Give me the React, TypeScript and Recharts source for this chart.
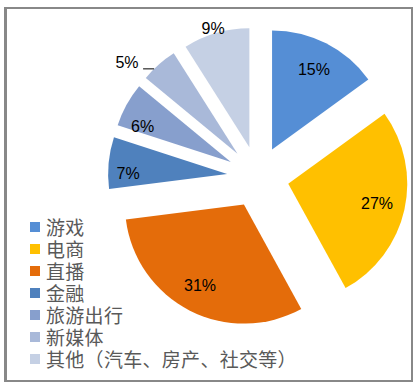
import React from "react";
import { PieChart, Pie, Cell, Legend } from "recharts";

// share of each category (%), clockwise from 12 o'clock
const categories = ["游戏", "电商", "直播", "金融", "旅游出行", "新媒体", "其他（汽车、房产、社交等）"];
const shares = [15, 27, 31, 7, 6, 5, 9];
const colors = ["#558ED5", "#FFC000", "#E46C0A", "#4F81BD", "#879FCD", "#A9B9D9", "#C5D0E4"];

// exploded pie layout
const CENTER_X = 258;
const CENTER_Y = 177;
const RADIUS = 119;
const EXPLODE = 31;

// where each percent label sits, measured from its own slice tip
const labelAngle = [27.7, 102.7, 208.5, 270.6, 291.7, 309.4, 343];
const labelRadius = [90, 91, 92, 99, 95, 143, 124];

const rows = categories.map((name, i) => ({ name, value: shares[i] }));
const total = shares.reduce((a, b) => a + b, 0);

const rad = (deg: number) => (deg * Math.PI) / 180;

// compass angle (clockwise from top) of each slice middle
const midAngles = shares.map((v, i) => {
  const before = shares.slice(0, i).reduce((a, b) => a + b, 0);
  return ((before + v / 2) / total) * 360;
});

const centers = midAngles.map((a) => ({
  x: CENTER_X + EXPLODE * Math.sin(rad(a)),
  y: CENTER_Y - EXPLODE * Math.cos(rad(a)),
}));

function makeLabel(slice: number) {
  return (props: any) => {
    if (props.index !== slice) return null;
    const a = rad(labelAngle[slice]);
    const x = props.cx + labelRadius[slice] * Math.sin(a);
    const y = props.cy - labelRadius[slice] * Math.cos(a);
    const text = (
      <text
        x={x}
        y={y}
        textAnchor="middle"
        dominantBaseline="central"
        fill="#000"
        fontSize={16}
        fontFamily="'Liberation Sans', Arial, sans-serif"
      >
        {`${shares[slice]}%`}
      </text>
    );
    if (slice !== 5) return text;
    // small leader line for the 5% slice
    const ea = rad(315.5);
    const ex = props.cx + props.outerRadius * Math.sin(ea);
    const ey = props.cy - props.outerRadius * Math.cos(ea);
    return (
      <g>
        {text}
        <line x1={ex - 11} y1={ey} x2={ex} y2={ey} stroke="#000" strokeWidth={1} />
      </g>
    );
  };
}

function LegendBox() {
  return (
    <div style={{ fontFamily: "'Noto Sans CJK SC', sans-serif", fontSize: 19, color: "#595959" }}>
      {categories.map((name, i) => (
        <div key={name} style={{ display: "flex", alignItems: "center", height: 22, whiteSpace: "nowrap" }}>
          <span style={{ width: 10, height: 10, background: colors[i], marginRight: 6, flexShrink: 0 }} />
          <span style={{ lineHeight: "22px", letterSpacing: 0.3 }}>{name}</span>
        </div>
      ))}
    </div>
  );
}

export default function App() {
  return (
    <div style={{ position: "absolute", left: 0, top: 0, width: 414, height: 385, background: "#fff" }}>
      <div
        style={{
          position: "absolute",
          left: 4,
          top: 7,
          width: 404,
          height: 371,
          borderTop: "2px solid #888",
          borderBottom: "2px solid #888",
          borderRight: "2px solid #888",
          borderLeft: "3px solid #888",
        }}
      />
      <div style={{ position: "absolute", left: 0, top: 0 }}>
        <PieChart width={414} height={385} margin={{ top: 0, right: 0, bottom: 0, left: 0 }}>
          {categories.map((_, i) => (
            <Pie
              key={i}
              data={rows}
              dataKey="value"
              nameKey="name"
              cx={centers[i].x}
              cy={centers[i].y}
              outerRadius={RADIUS}
              startAngle={90}
              endAngle={-270}
              stroke="none"
              legendType="none"
              label={makeLabel(i)}
              labelLine={false}
              isAnimationActive={false}
            >
              {rows.map((r, j) => (
                <Cell key={r.name} fill={colors[j]} fillOpacity={j === i ? 1 : 0} />
              ))}
            </Pie>
          ))}
          <Legend
            content={() => <LegendBox />}
            wrapperStyle={{ position: "absolute", left: 30, top: 216, width: "auto" }}
          />
        </PieChart>
      </div>
    </div>
  );
}
